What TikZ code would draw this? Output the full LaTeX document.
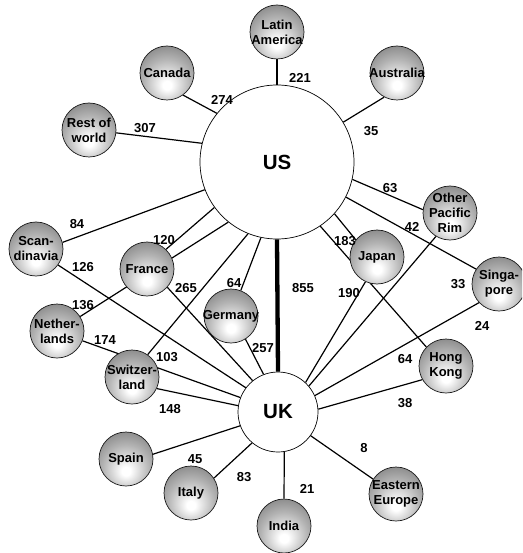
\documentclass[tikz,border=0pt]{standalone}
\usepackage{fontspec}
\setmainfont{Liberation Sans}
\usetikzlibrary{backgrounds}
\pgfdeclareradialshading{ballshade}{\pgfpoint{0bp}{-12bp}}{color(0bp)=(white); color(4bp)=(white); color(22bp)=(black!30); color(42bp)=(black!58); color(60bp)=(black!68); color(80bp)=(black!68)}
\begin{document}
\begin{tikzpicture}[x=1pt,y=-1pt,
  ball/.style={circle,draw=black!90,line width=0.7pt,minimum size=54pt,inner sep=0pt,shading=ballshade},
  bigc/.style={circle,draw=black,line width=0.7pt,fill=white,inner sep=0pt,font=\fontsize{20.5}{24}\selectfont\bfseries},
  lnk/.style={line width=1.2pt},
  thicklnk/.style={line width=4.3pt},
  num/.style={font=\fontsize{13}{15}\selectfont\bfseries,inner sep=0pt},
  txt/.style={font=\fontsize{13}{15}\selectfont\bfseries,align=center,inner sep=0pt}]
\clip (0,0) rectangle (522,553);
% big circles
\node[bigc,minimum size=154pt] (us) at (277,162) {US};
\node[bigc,minimum size=80pt] (uk) at (278,412) {UK};
% small circles
\node[ball,label={[txt]center:Latin\\America}] (latam) at (277,32) {};
\node[ball,label={[txt]center:Canada}] (canada) at (167,73) {};
\node[ball,label={[txt]center:Rest of\\world}] (row) at (89,130) {};
\node[ball,label={[txt]center:Australia}] (australia) at (397,73) {};
\node[ball,label={[txt]center:Scan-\\dinavia}] (scand) at (36,249) {};
\node[ball,label={[txt]center:France}] (france) at (147,269) {};
\node[ball,label={[txt]center:Nether-\\lands}] (neth) at (57,331) {};
\node[ball,label={[txt]center:Germany}] (germany) at (231,316) {};
\node[ball,label={[txt]center:Switzer-\\land}] (switz) at (132,377) {};
\node[ball,label={[txt]center:Spain}] (spain) at (126,459) {};
\node[ball,label={[txt]center:Italy}] (italy) at (191,493) {};
\node[ball,label={[txt]center:India}] (india) at (284,526) {};
\node[ball,label={[txt]center:Eastern\\Europe}] (ee) at (396,494) {};
\node[ball,label={[txt]center:Hong\\Kong}] (hk) at (446,366) {};
\node[ball,label={[txt]center:Japan}] (japan) at (377,257) {};
\node[ball,label={[txt]center:Other\\Pacific\\Rim}] (opr) at (450,213) {};
\node[ball,label={[txt]center:Singa-\\pore}] (sing) at (499,284) {};
% connectors
\begin{scope}[on background layer]
\fill[white] (0,0) rectangle (522,553);
\draw[lnk] (latam) -- (us);
\draw[lnk] (canada.-54) -- (us.141.5);
\draw[lnk] (row.-6) -- (us.166.5);
\draw[lnk] (australia.242.5) -- (us.31.6);
\draw[lnk] (scand.14.5) -- (us.201);
\draw[lnk] (france.46) -- (us.216.6);
\draw[lnk] (neth.32.6) -- (us.231.3);
\draw[lnk] (switz.55.7) -- (us.248.2);
\draw[lnk] (germany.69) -- (us.258.4);
\draw[thicklnk] (us.270) -- (uk.90);
\draw[lnk] (us.-42.8) -- (japan.141);
\draw[lnk] (us.-56.3) -- (hk.136.5);
\draw[lnk] (us.-13.5) -- (opr.173.4);
\draw[lnk] (us.-27.9) -- (sing.147.5);
\draw[lnk] (japan.245) -- (uk.47);
\draw[lnk] (opr.239.7) -- (uk.40);
\draw[lnk] (sing.223) -- (uk.24);
\draw[lnk] (hk.210) -- (uk.4);
\draw[lnk] (ee.147) -- (uk.-36);
\draw[lnk] (india.90) -- (uk.-81);
\draw[lnk] (spain.10.5) -- (uk.200.7);
\draw[lnk] (italy.33.7) -- (uk.230);
\draw[lnk] (switz.-25.6) -- (uk.171);
\draw[lnk] (neth.-21) -- (uk.159);
\draw[lnk] (scand.-36) -- (uk.143);
\draw[lnk] (france.-42) -- (uk.129);
\draw[lnk] (germany.-58.7) -- (uk.111);
\end{scope}
% numbers
\node[num] (n221) at (300,78) {221};
\node[num] (n274) at (222,100) {274};
\node[num] (n307) at (145,128) {307};
\node[num] (n35) at (371,131) {35};
\node[num] (n84) at (77,224) {84};
\node[num] (n63) at (390,188) {63};
\node[num] (n42) at (412,227) {42};
\node[num] (n183) at (345,241) {183};
\node[num] (n120) at (164,240) {120};
\node[num] (n126) at (83,267) {126};
\node[num] (n265) at (186,288) {265};
\node[num] (n64a) at (234,283) {64};
\node[num] (n855) at (303,288) {855};
\node[num] (n190) at (349,293) {190};
\node[num] (n33) at (458,284) {33};
\node[num] (n136) at (83,305) {136};
\node[num] (n174) at (105,340) {174};
\node[num] (n257) at (263,348) {257};
\node[num] (n24) at (482,326) {24};
\node[num] (n103) at (167,357) {103};
\node[num] (n64b) at (405,359) {64};
\node[num] (n148) at (170,409) {148};
\node[num] (n38) at (405,403) {38};
\node[num] (n45) at (195,459) {45};
\node[num] (n83) at (244,477) {83};
\node[num] (n8) at (364,448) {8};
\node[num] (n21) at (307,489) {21};
\end{tikzpicture}
\end{document}
